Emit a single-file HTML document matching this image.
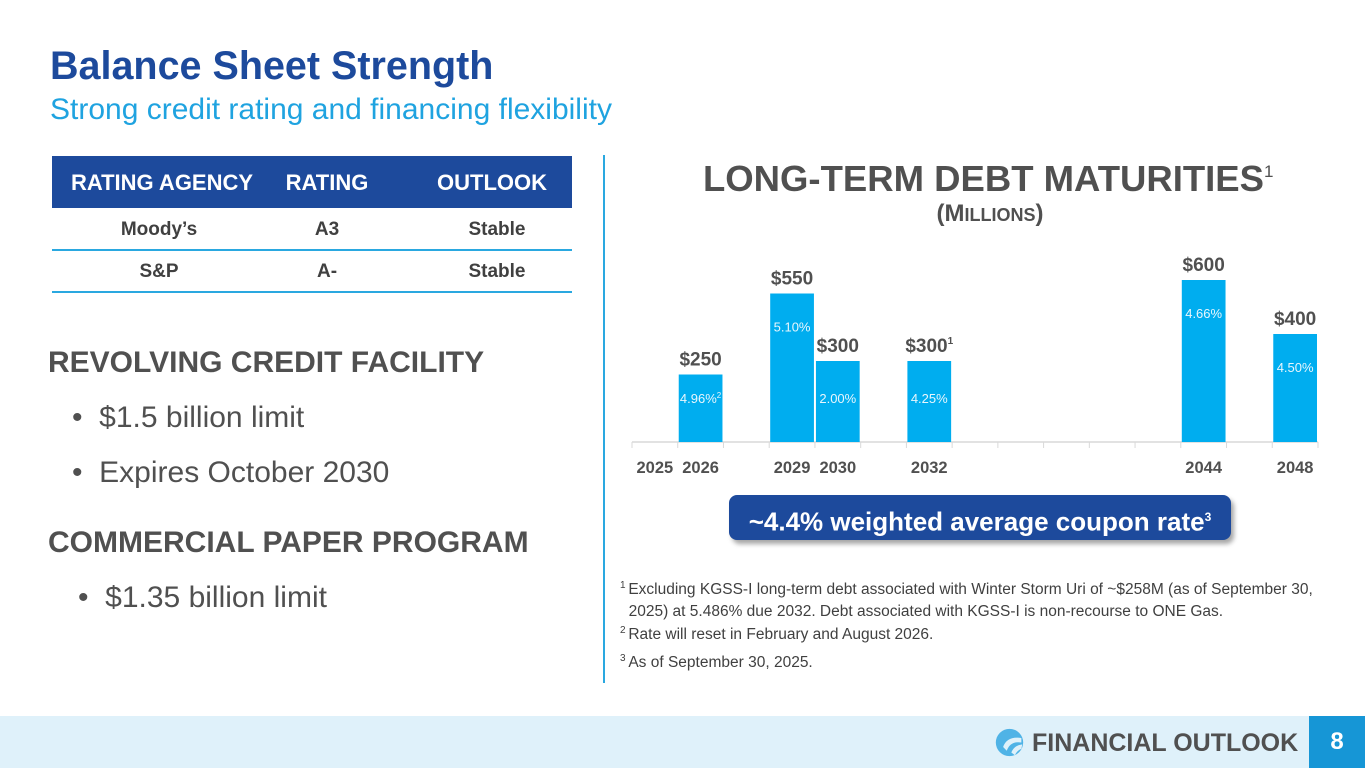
<!DOCTYPE html>
<html><head><meta charset="utf-8">
<style>
*{margin:0;padding:0;box-sizing:border-box}
body{width:1365px;height:768px;position:relative;background:#fff;font-family:"Liberation Sans",Arial,sans-serif;overflow:hidden}
.a{position:absolute;white-space:nowrap}
.th{color:#fff;font-weight:bold;font-size:22px;text-align:center;line-height:54px;top:0}
.td{color:#404040;font-weight:bold;font-size:19px;text-align:center}
.h2{color:#505050;font-weight:bold;font-size:30px;left:48px}
.bl{color:#505050;font-size:30px}
.fn{font-size:15.5px;color:#404040}
</style></head><body>
<div class="a" style="left:50px;top:44px;font-size:39.5px;font-weight:bold;color:#1d4a9c">Balance Sheet Strength</div>
<div class="a" style="left:50px;top:93px;font-size:30px;color:#1fa3e0">Strong credit rating and financing flexibility</div>

<div class="a" style="left:52px;top:156px;width:520px;height:137px">
 <div class="a" style="left:0;top:0;width:520px;height:52px;background:#1d4a9c"></div>
 <div class="a th" style="left:5px;width:210px">RATING AGENCY</div>
 <div class="a th" style="left:210px;width:130px">RATING</div>
 <div class="a th" style="left:360px;width:160px">OUTLOOK</div>
 <div class="a td" style="left:0;width:214px;top:63px">Moody’s</div>
 <div class="a td" style="left:210px;width:130px;top:63px">A3</div>
 <div class="a td" style="left:370px;width:150px;top:63px">Stable</div>
 <div class="a" style="left:0;top:93px;width:520px;height:2px;background:#2aa8e0"></div>
 <div class="a td" style="left:0;width:214px;top:105px">S&amp;P</div>
 <div class="a td" style="left:210px;width:130px;top:105px">A-</div>
 <div class="a td" style="left:370px;width:150px;top:105px">Stable</div>
 <div class="a" style="left:0;top:135px;width:520px;height:2px;background:#2aa8e0"></div>
</div>

<div class="a h2" style="top:346px">REVOLVING CREDIT FACILITY</div>
<div class="a bl" style="left:72px;top:401px">•&nbsp; $1.5 billion limit</div>
<div class="a bl" style="left:72px;top:456px">•&nbsp; Expires October 2030</div>
<div class="a h2" style="top:526px">COMMERCIAL PAPER PROGRAM</div>
<div class="a bl" style="left:78px;top:581px">•&nbsp; $1.35 billion limit</div>

<div class="a" style="left:603px;top:155px;width:2px;height:528px;background:#2aa8e0"></div>

<div class="a" style="left:703px;top:158px;font-size:36.5px;font-weight:bold;color:#505050">LONG-TERM DEBT MATURITIES<span style="font-size:17px;font-weight:normal;vertical-align:top;position:relative;top:4px">1</span></div>
<div class="a" style="left:640px;width:700px;text-align:center;top:200px;font-size:24px;font-weight:bold;color:#505050">(M<span style="font-size:18px">ILLIONS</span>)</div>

<svg class="a" style="left:0;top:0" width="1365" height="768" id="chart"></svg>

<div class="a" style="left:729px;top:495px;width:502px;height:45px;background:#1d4a9c;border-radius:8px;box-shadow:3px 4px 5px rgba(0,0,0,.35);color:#fff;font-weight:bold;font-size:26px;text-align:center;line-height:45px">~4.4% weighted average coupon rate<sup style="font-size:12px">3</sup></div>

<div class="a fn" style="left:620px;top:575px;line-height:22px"><sup style="font-size:10px">1 </sup>Excluding KGSS-I long-term debt associated with Winter Storm Uri of ~$258M (as of September 30,<br>&nbsp;&nbsp;2025) at 5.486% due 2032. Debt associated with KGSS-I is non-recourse to ONE Gas.</div>
<div class="a fn" style="left:620px;top:625px"><sup style="font-size:10px">2 </sup>Rate will reset in February and August 2026.</div>
<div class="a fn" style="left:620px;top:653px"><sup style="font-size:10px">3 </sup>As of September 30, 2025.</div>

<div class="a" style="left:0;top:716px;width:1365px;height:52px;background:#dff1fa"></div>
<svg class="a" style="left:994px;top:727px" width="31" height="31" viewBox="0 0 34 34"><circle cx="17" cy="17" r="15" fill="#4fb3e6"/><path d="M10 22 Q14 10 30 12 L30 17 Q18 15 14 26 Z" fill="#dff1fa"/><path d="M19 28 Q22 20 31 19 L30 24 Q25 26 23 31Z" fill="#dff1fa"/></svg>
<div class="a" style="left:1032px;top:729px;font-size:25px;font-weight:bold;color:#505050">FINANCIAL OUTLOOK</div>
<div class="a" style="left:1309px;top:716px;width:56px;height:52px;background:#1696d6;color:#fff;font-weight:bold;font-size:24px;text-align:center;line-height:52px">8</div>

<script>
const tickLabels=["2025","2026","","2029","2030","","2032","","","","","","2044","","2048"];
const barYears=["2026","2029","2030","2032","2044","2048"];
const barSlots=[1,3,4,6,12,14];
const amounts=[250,550,300,300,600,400];
const amountLabels=["$250","$550","$300","$300","$600","$400"];
const amountSups=["","","","1","",""];
const rates=["4.96%","5.10%","2.00%","4.25%","4.66%","4.50%"];
const rateSups=["2","","","","",""];
const svg=document.getElementById('chart');
const NS='http://www.w3.org/2000/svg';
const x0=632,x1=1318,base=442,nSlots=15,sw=(x1-x0)/nSlots;
const xs=i=>x0+i*sw;
const ys=v=>base-v*0.27;
function mk(t,a){const e=document.createElementNS(NS,t);for(const k in a)e.setAttribute(k,a[k]);svg.appendChild(e);return e;}
const ax=mk('line',{x1:x0,y1:base,x2:x1,y2:base,stroke:'#d9d9d9','stroke-width':1.5});


for(let i=0;i<=nSlots;i++){const t=mk('line',{x1:xs(i),y1:base,x2:xs(i),y2:base+6,stroke:'#d9d9d9','stroke-width':1});

}
tickLabels.forEach((l,i)=>{if(!l)return;const t=mk('text',{x:xs(i)+sw/2,y:473,'text-anchor':'middle','font-size':16.5,'font-weight':'bold',fill:'#505050','font-family':'Liberation Sans, sans-serif'});t.textContent=l;

});
amounts.forEach((v,k)=>{const i=barSlots[k];const cx=xs(i)+sw/2;
const r=mk('rect',{x:xs(i)+1,y:ys(v),width:sw-2,height:base-ys(v),fill:'#00adef'});


const a=mk('text',{x:cx,y:ys(v)-9,'text-anchor':'middle','font-size':19,'font-weight':'bold',fill:'#505050','font-family':'Liberation Sans, sans-serif'});
a.textContent=amountLabels[k];
if(amountSups[k]){const s=document.createElementNS(NS,'tspan');s.setAttribute('font-size',10);s.setAttribute('dy',-8);s.textContent=amountSups[k];a.appendChild(s);}


const rt=mk('text',{x:cx,y:(v<=300?403:ys(v)+38),'text-anchor':'middle','font-size':13,fill:'#e8f6fd','font-family':'Liberation Sans, sans-serif'});
rt.textContent=rates[k];
if(rateSups[k]){const s=document.createElementNS(NS,'tspan');s.setAttribute('font-size',8);s.setAttribute('dy',-5);s.textContent=rateSups[k];rt.appendChild(s);}


});
</script>
</body></html>
